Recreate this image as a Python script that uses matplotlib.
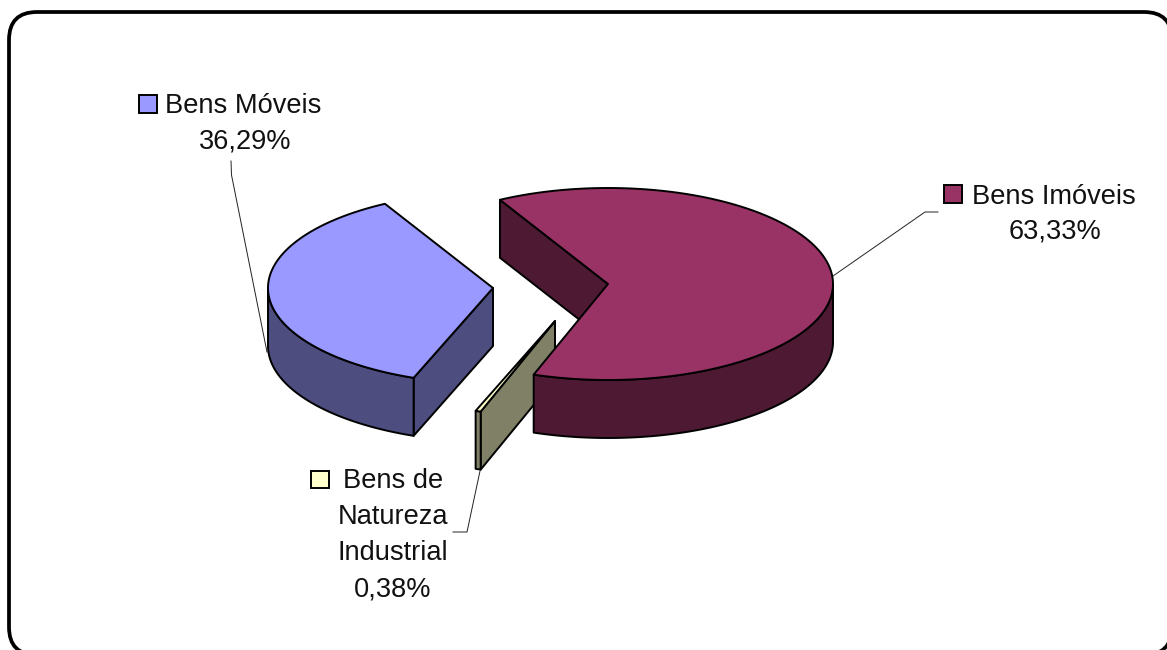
import numpy as np
import matplotlib
matplotlib.use('Agg')
import matplotlib.pyplot as plt
from matplotlib.patches import FancyBboxPatch, Polygon, Rectangle

plt.rcParams['font.family'] = ['Liberation Sans', 'DejaVu Sans']

categorias = ['Bens Imóveis', 'Bens de Natureza Industrial', 'Bens Móveis']
valores = [63.33, 0.38, 36.29]
cor_topo = ['#993366', '#FFFFCC', '#9999FF']
cor_lado = ['#4D1933', '#808066', '#4D4D80']

# pie geometry in pixels
rx, ry = 225, 96
altura = 58
inicio = 118.7
centros = [(608, 284), (555, 321), (493, 288)]
ordem = [2, 1, 0]

fig = plt.figure(figsize=(11.67, 6.5), dpi=100)
ax = fig.add_axes([0, 0, 1, 1])
ax.set_xlim(0, 1167)
ax.set_ylim(650, 0)
ax.axis('off')

# rounded frame, runs off the right and bottom edges
ax.add_patch(FancyBboxPatch((9 + 28, 12 + 28), 1163 - 56, 643 - 56,
                            boxstyle='round,pad=28,rounding_size=28',
                            fc='white', ec='black', lw=2.7, zorder=0))


def ponto(c, ang, dz=0):
    a = np.radians(ang)
    return c[0] + rx * np.cos(a), c[1] - ry * np.sin(a) + dz


def arco(c, a0, a1, dz=0):
    t = np.linspace(a0, a1, 200)
    x, y = ponto(c, t, dz)
    return np.column_stack([x, y])


angulos = inicio - np.cumsum([0] + valores) * 3.6
z = 2
for i in ordem:
    c = centros[i]
    a0, a1 = angulos[i], angulos[i + 1]
    estilo = dict(ec='black', lw=1.4, joinstyle='round')

    # straight cut faces that look towards the viewer
    if np.cos(np.radians(a0)) < 0:
        p = ponto(c, a0)
        face = [c, p, (p[0], p[1] + altura), (c[0], c[1] + altura)]
        ax.add_patch(Polygon(face, fc=cor_lado[i], zorder=z, **estilo))
    if np.cos(np.radians(a1)) > 0:
        p = ponto(c, a1)
        face = [c, p, (p[0], p[1] + altura), (c[0], c[1] + altura)]
        ax.add_patch(Polygon(face, fc=cor_lado[i], zorder=z, **estilo))

    # outer wall, only the front half of the ellipse shows
    lo, hi = a1 % 360, a1 % 360 + (a0 - a1)
    for k in (-360, 0):
        ini, fim = max(lo + k, 180), min(hi + k, 360)
        if ini < fim:
            cima = arco(c, ini, fim)
            baixo = arco(c, fim, ini, altura)
            ax.add_patch(Polygon(np.vstack([cima, baixo]), fc=cor_lado[i], zorder=z, **estilo))

    topo = np.vstack([[c], arco(c, a0, a1)])
    ax.add_patch(Polygon(topo, fc=cor_topo[i], zorder=z, **estilo))
    z += 1


def pct(v):
    return f'{v:.2f}%'.replace('.', ',')


def chave(x, y, cor):
    ax.add_patch(Rectangle((x, y), 17.5, 17.5, fc=cor, ec='black', lw=1.4, zorder=6))


tam = 19.6
txt = dict(fontsize=tam, ha='center', va='center', color='#111111', zorder=6)

# Bens Moveis
chave(139, 95, cor_topo[2])
ax.text(243.5, 106, categorias[2], **txt)
ax.text(245, 142, pct(valores[2]), **txt)
ax.plot([231, 231.5, 267], [161, 175, 352], color='#222222', lw=0.7, zorder=1)

# Bens Imoveis
chave(944, 185, cor_topo[0])
ax.text(1054, 197, categorias[0], **txt)
ax.text(1055, 232, pct(valores[0]), **txt)
ax.plot([938, 925, 833], [212, 212, 276], color='#222222', lw=0.7, zorder=1)

# Bens de Natureza Industrial, wrapped over three lines
chave(311, 470.5, cor_topo[1])
ax.text(393, 481, 'Bens de', **txt)
ax.text(393, 517, 'Natureza', **txt)
ax.text(393, 553, 'Industrial', **txt)
ax.text(393, 589, pct(valores[1]), **txt)
ax.plot([453, 467, 480], [532, 532, 471], color='#222222', lw=0.7, zorder=1)

fig.savefig('out.png', dpi=100, facecolor='white')
